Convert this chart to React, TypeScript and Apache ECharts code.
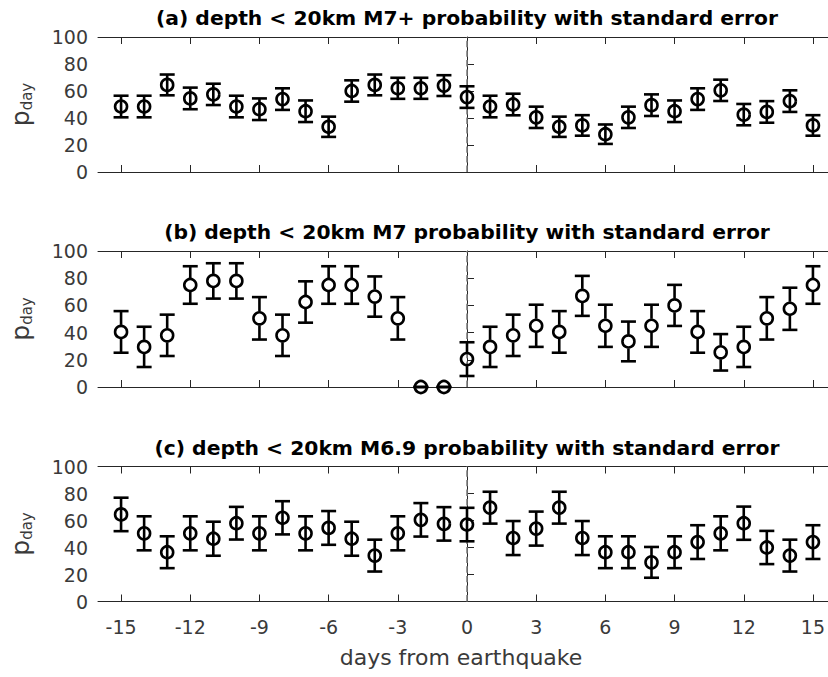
import React, { useEffect, useRef } from "react";
import * as echarts from "echarts";

const days = [-15, -14, -13, -12, -11, -10, -9, -8, -7, -6, -5, -4, -3, -2, -1, 0, 1, 2, 3, 4, 5, 6, 7, 8, 9, 10, 11, 12, 13, 14, 15];
const xTicks = [-15, -12, -9, -6, -3, 0, 3, 6, 9, 12, 15];

const titles = [
  "(a) depth < 20km M7+ probability with standard error",
  "(b) depth < 20km M7 probability with standard error",
  "(c) depth < 20km M6.9 probability with standard error",
];

const pA = [48.5, 48.5, 64.5, 54.5, 57.5, 48.5, 46.5, 54, 45, 33.5, 60, 64.5, 62, 62, 64, 55.5, 48.5, 50, 40.5, 33.5, 34.5, 28, 40.5, 49.5, 45, 54, 60.5, 42.5, 44.5, 52.5, 34.5];
const eA = [8, 8, 7.7, 8, 7.9, 8, 8, 8, 8, 7.5, 7.9, 7.7, 7.8, 7.8, 7.7, 8, 8, 8, 7.9, 7.5, 7.6, 7.2, 7.9, 8, 8, 8, 7.9, 7.9, 8, 8, 7.6];

const pB = [40.5, 29.5, 38, 75, 78, 78, 50.5, 38, 62.5, 75, 75, 66.5, 50.5, 0, 0, 20.5, 29.5, 38, 45, 40.5, 67, 45, 33.5, 45, 60, 40.5, 25.5, 29.5, 50.5, 57.5, 75];
const eB = [15.3, 14.8, 15.2, 13.8, 13, 13, 15.6, 15.2, 15.2, 13.8, 13.8, 14.8, 15.6, 0, 0, 12.4, 14.8, 15.2, 15.5, 15.3, 14.7, 15.5, 14.6, 15.5, 15.1, 15.3, 13.4, 14.8, 15.6, 15.5, 13.8];

const pC = [64.5, 50.5, 36.5, 50.5, 46.5, 58, 50.5, 62, 50.5, 54.5, 46.5, 34, 50.5, 60.5, 57.5, 57, 69.5, 47, 54, 69.5, 47, 36.5, 36.5, 29, 36.5, 44, 50.5, 58, 40, 34, 44];
const eC = [12.4, 12.6, 11.8, 12.6, 12.6, 12.1, 12.6, 12.3, 12.6, 12.5, 12.6, 11.8, 12.6, 12.4, 12.4, 12.4, 11.8, 12.6, 12.6, 11.8, 12.6, 11.8, 11.8, 11.4, 11.8, 12.5, 12.6, 12.3, 12.3, 11.8, 12.5];

const FONT = '"DejaVu Sans", sans-serif';
const AX = "#262626";
const LBL = "#3a3a3a";

export default function App() {
  const ref = useRef<HTMLDivElement>(null);
  useEffect(() => {
    const chart = echarts.init(ref.current!, null, { renderer: "svg" });
    const panels = [
      { p: pA, e: eA, top: 37, height: 135, gap: false },
      { p: pB, e: eB, top: 251, height: 136, gap: true },
      { p: pC, e: eC, top: 466.5, height: 135, gap: false },
    ];
    const grid: any[] = [];
    const xAxis: any[] = [];
    const yAxis: any[] = [];
    const series: any[] = [];
    const title: any[] = [];
    panels.forEach((pn, i) => {
      grid.push({ left: 98, top: pn.top, width: 738, height: pn.height, outerBoundsMode: "none", containLabel: false });
      title.push({
        text: titles[i],
        left: 467,
        top: pn.top - 29,
        textAlign: "center",
        padding: 0,
        textStyle: { fontFamily: FONT, fontSize: 20.3, fontWeight: "bold", color: "#000" },
      });
      const isLast = i === 2;
      xAxis.push({
        type: "value",
        gridIndex: i,
        min: -16,
        max: 16,
        position: "bottom",
        axisLine: { show: true, lineStyle: { color: AX, width: 1 } },
        axisTick: { show: true, inside: true, length: 7, customValues: xTicks, lineStyle: { color: AX } },
        axisLabel: {
          show: isLast,
          customValues: xTicks,
          margin: 16,
          fontFamily: FONT,
          fontSize: 19,
          color: LBL,
        },
        splitLine: { show: false },
        name: isLast ? "days from earthquake" : "",
        nameLocation: "middle",
        nameGap: 45,
        nameTextStyle: { fontFamily: FONT, fontSize: 22, color: LBL, padding: [0, 12, 0, 0] },
      });
      xAxis.push({
        type: "value",
        gridIndex: i,
        min: -16,
        max: 16,
        position: "top",
        axisLine: { show: true, lineStyle: { color: AX, width: 1 } },
        axisTick: { show: true, inside: true, length: 7, customValues: xTicks, lineStyle: { color: AX } },
        axisLabel: { show: false },
        splitLine: { show: false },
      });
      yAxis.push({
        type: "value",
        gridIndex: i,
        min: 0,
        max: 100,
        interval: 20,
        axisLine: { show: true, lineStyle: { color: AX, width: 1 } },
        axisTick: { show: true, inside: true, length: 7, lineStyle: { color: AX } },
        axisLabel: { margin: 10, fontFamily: FONT, fontSize: 19, color: LBL },
        splitLine: { show: false },
        name: "{p|p}{s|day}",
        nameLocation: "middle",
        nameRotate: 90,
        nameGap: 64,
        nameTextStyle: {
          rich: {
            p: { fontFamily: FONT, fontSize: 25, color: LBL, lineHeight: 28 },
            s: { fontFamily: FONT, fontSize: 15, color: LBL, lineHeight: 14, verticalAlign: "bottom" },
          },
        },
      });
      const gap = pn.gap;
      series.push({
        type: "custom",
        xAxisIndex: i * 2,
        yAxisIndex: i,
        z: 3,
        data: days.map((d, k) => [d, pn.p[k], pn.e[k]]),
        encode: { x: 0, y: 1 },
        renderItem: (params: any, api: any) => {
          const x = api.value(0);
          const y = api.value(1);
          const e = api.value(2);
          const c = api.coord([x, y]);
          const t = api.coord([x, y + e]);
          const b = api.coord([x, y - e]);
          const half = 7.5;
          const r = 7;
          const style = { stroke: "#000", lineWidth: 2.6, fill: null };
          const children: any[] = [
            { type: "line", shape: { x1: c[0] - half, y1: t[1], x2: c[0] + half, y2: t[1] }, style },
            { type: "line", shape: { x1: c[0] - half, y1: b[1], x2: c[0] + half, y2: b[1] }, style },
          ];
          if (gap) {
            if (c[1] - r > t[1]) children.push({ type: "line", shape: { x1: c[0], y1: t[1], x2: c[0], y2: c[1] - r }, style });
            if (b[1] > c[1] + r) children.push({ type: "line", shape: { x1: c[0], y1: c[1] + r, x2: c[0], y2: b[1] }, style });
          } else {
            children.push({ type: "line", shape: { x1: c[0], y1: t[1], x2: c[0], y2: b[1] }, style });
          }
          return { type: "group", children };
        },
      });
      series.push({
        type: "scatter",
        xAxisIndex: i * 2,
        yAxisIndex: i,
        z: 4,
        clip: false,
        symbol: "circle",
        symbolSize: 12,
        itemStyle: { color: "rgba(0,0,0,0)", borderColor: "#000", borderWidth: 2.6, opacity: 1 },
        data: days.map((d, k) => [d, pn.p[k]]),
        markLine: {
          silent: true,
          z: 1,
          symbol: ["none", "none"],
          label: { show: false },
          lineStyle: { color: "#7f7f7f", type: "dashed", width: 1.6, opacity: 1 },
          emphasis: { disabled: true },
          data: [{ xAxis: 0 }],
        },
      });
    });
    chart.setOption({
      animation: false,
      backgroundColor: "#fff",
      title,
      grid,
      xAxis,
      yAxis,
      series,
    });
    return () => chart.dispose();
  }, []);
  return <div ref={ref} style={{ position: "absolute", left: 0, top: 0, width: 828, height: 677 }} />;
}
